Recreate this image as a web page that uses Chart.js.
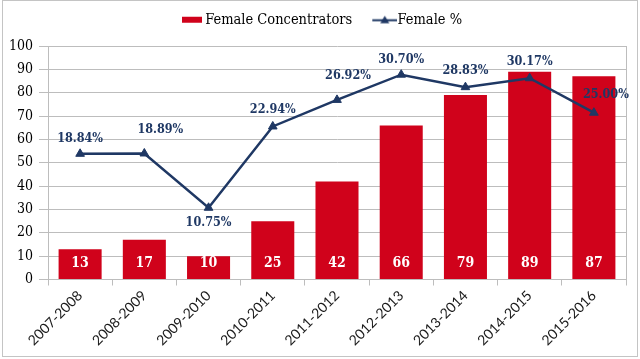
<!DOCTYPE html>
<html>
<head>
<meta charset="utf-8">
<script src="https://cdn.jsdelivr.net/npm/chart.js@4.4.0/dist/chart.umd.min.js"></script>
<style>
html,body{margin:0;padding:0;background:#fff;}
#wrap{width:640px;height:359px;position:relative;}
canvas{display:block;}
</style>
</head>
<body>
<div id="wrap"><canvas id="c" width="640" height="359"></canvas></div>
<script>
// ---- data ----
const categories = ['2007-2008','2008-2009','2009-2010','2010-2011','2011-2012','2012-2013','2013-2014','2014-2015','2015-2016'];
const femaleConcentrators = [13, 17, 10, 25, 42, 66, 79, 89, 87];
const femalePct = [18.84, 18.89, 10.75, 22.94, 26.92, 30.70, 28.83, 30.17, 25.00];
const seriesNames = ['Female Concentrators', 'Female %'];
const yTicks = [0, 10, 20, 30, 40, 50, 60, 70, 80, 90, 100];

// ---- style ----
const RED = '#D0021B';
const NAVY = '#1F3864';
const GRID = '#BDBDBD';
const SERIF = "'DejaVu Serif Condensed', 'DejaVu Serif', serif";
// label nudges (pixels) for the percentage labels, as placed in the original
const pctLabelNudge = [[0,-15],[16,-24],[0,15],[0,-17],[11,-24],[0,-15],[0,-16],[0,-16],[12,-18]];

function makeBoxImg(){
  const c = document.createElement('canvas'); c.width = 34; c.height = 12;
  const g = c.getContext('2d'); g.fillStyle = RED; g.fillRect(11, 3, 20, 6);
  return c;
}
function makeLineImg(){
  const c = document.createElement('canvas'); c.width = 34; c.height = 12;
  const g = c.getContext('2d');
  g.strokeStyle = NAVY; g.lineWidth = 2;
  g.beginPath(); g.moveTo(9, 6.5); g.lineTo(34, 6.5); g.stroke();
  g.fillStyle = NAVY; g.beginPath(); g.moveTo(21.5, 2); g.lineTo(26, 9.5); g.lineTo(17, 9.5); g.closePath(); g.fill();
  return c;
}
const legendImgs = [makeBoxImg(), makeLineImg()];

const framePlugin = {
  id: 'frame',
  beforeDraw(chart){
    const ctx = chart.ctx;
    ctx.save();
    ctx.fillStyle = '#fff'; ctx.fillRect(0, 0, chart.width, chart.height);
    ctx.strokeStyle = '#C4C4C4'; ctx.lineWidth = 1;
    ctx.strokeRect(2.5, 0.5, 635, 356);
    ctx.restore();
  }
};

const valueLabelPlugin = {
  id: 'valueLabels',
  afterDatasetsDraw(chart){
    const ctx = chart.ctx;
    ctx.save();
    ctx.textAlign = 'center'; ctx.textBaseline = 'middle';
    const barMeta = chart.getDatasetMeta(0);
    ctx.fillStyle = '#fff';
    ctx.font = "bold 14px " + SERIF;
    barMeta.data.forEach((el, i) => {
      ctx.fillText(String(femaleConcentrators[i]), el.x, el.base - 15.5);
    });
    const lineMeta = chart.getDatasetMeta(1);
    ctx.fillStyle = NAVY;
    ctx.font = "bold 12.5px " + SERIF;
    lineMeta.data.forEach((el, i) => {
      const n = pctLabelNudge[i];
      ctx.fillText(femalePct[i].toFixed(2) + '%', el.x + n[0], el.y + n[1]);
    });
    ctx.restore();
  }
};

new Chart(document.getElementById('c'), {
  type: 'bar',
  data: {
    labels: categories,
    datasets: [
      {
        type: 'bar', label: seriesNames[0], data: femaleConcentrators,
        backgroundColor: RED, borderWidth: 0, yAxisID: 'y', order: 1,
        barPercentage: 0.67, categoryPercentage: 1.0
      },
      {
        type: 'line', label: seriesNames[1], data: femalePct,
        borderColor: NAVY, backgroundColor: NAVY, borderWidth: 2.5, tension: 0,
        pointStyle: 'triangle', pointRadius: 5, pointBorderWidth: 1,
        pointBackgroundColor: NAVY, pointBorderColor: NAVY,
        yAxisID: 'y1', order: 0, fill: false
      }
    ]
  },
  options: {
    responsive: false, animation: false, devicePixelRatio: 1,
    layout: { padding: { top: -5.5, left: 0, right: 0, bottom: 0 } },
    plugins: {
      tooltip: { enabled: false },
      legend: {
        display: true, position: 'top',
        labels: {
          usePointStyle: true, pointStyleWidth: 20, padding: 18,
          font: { family: SERIF, size: 14.5 }, color: '#000',
          generateLabels: () => seriesNames.map((name, i) => ({
            text: name, fillStyle: i === 0 ? RED : NAVY, strokeStyle: 'rgba(0,0,0,0)',
            lineWidth: 0, hidden: false, pointStyle: legendImgs[i], rotation: 0,
            datasetIndex: i, fontColor: '#000'
          }))
        }
      }
    },
    scales: {
      x: {
        grid: { display: true, drawOnChartArea: false, drawTicks: true, tickLength: 6, color: GRID, offset: true },
        border: { display: true, color: GRID },
        ticks: { minRotation: 45, maxRotation: 45, autoSkip: false, padding: 2,
                 font: { family: 'Lato', size: 14 }, color: '#1a1a1a' },
        afterFit(s){ s.height = 79.5; s.paddingLeft = 0; s.paddingRight = 0; }
      },
      xTop: {
        type: 'category', position: 'top', display: true,
        ticks: { display: false },
        grid: { display: false, drawTicks: false },
        border: { display: false },
        afterFit(s){ s.height = 9; s.paddingLeft = 0; s.paddingRight = 0; }
      },
      y: {
        position: 'left', min: 0, max: 100,
        afterBuildTicks(s){ s.ticks = yTicks.map(v => ({ value: v })); },
        ticks: { padding: 6, font: { family: SERIF, size: 14 }, color: '#000' },
        grid: { color: GRID, tickLength: 9, drawTicks: true },
        border: { display: true, color: GRID },
        afterFit(s){ s.width = 48; }
      },
      y1: {
        position: 'right', min: 0, max: 35, display: true,
        ticks: { display: false },
        grid: { drawOnChartArea: false, drawTicks: false },
        border: { display: true, color: GRID },
        afterFit(s){ s.width = 14; }
      }
    }
  },
  plugins: [framePlugin, valueLabelPlugin]
});
</script>
</body>
</html>
